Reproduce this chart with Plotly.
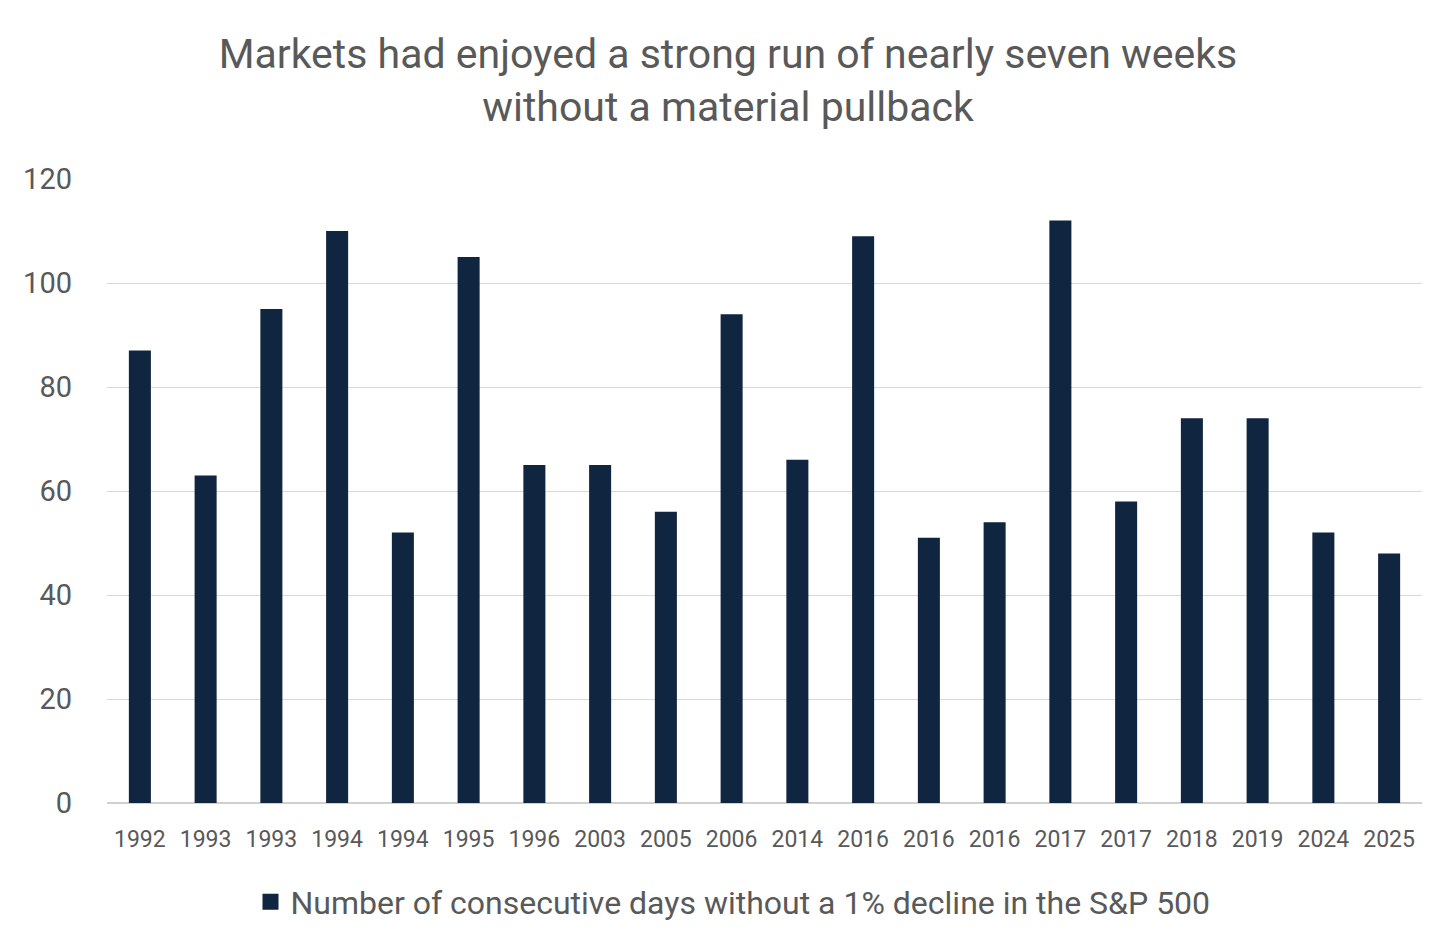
import plotly.graph_objects as go

years = ["1992", "1993", "1993", "1994", "1994", "1995", "1996", "2003", "2005", "2006",
         "2014", "2016", "2016", "2016", "2017", "2017", "2018", "2019", "2024", "2025"]
days = [87, 63, 95, 110, 52, 105, 65, 65, 56, 94, 66, 109, 51, 54, 112, 58, 74, 74, 52, 48]
series_name = "Number of consecutive days without a 1% decline in the S&P 500"
title_text = "Markets had enjoyed a strong run of nearly seven weeks<br>without a material pullback"

idx = list(range(len(years)))
bar_color = "#10253f"

W, H = 1440, 935

fig = go.Figure()
fig.add_trace(go.Bar(
    x=idx, y=days, name=series_name,
    marker=dict(color=bar_color, line=dict(width=0)),
    showlegend=False,
))
# legend-only entry with a larger square swatch
fig.add_trace(go.Scatter(
    x=[None], y=[None], mode="markers", name=series_name,
    marker=dict(symbol="square", size=20, color=bar_color),
    showlegend=True,
))

fig.update_layout(
    width=W, height=H,
    paper_bgcolor="white", plot_bgcolor="white",
    margin=dict(l=99, r=26, t=171, b=140, autoexpand=False),
    font=dict(family="Roboto, Noto Sans, sans-serif", color="#595959"),
    title=dict(text=title_text, x=0.5, xanchor="center",
               yref="container", y=1 - 60 / H, yanchor="middle",
               font=dict(size=41, color="#595959")),
    bargap=0.665,
    xaxis=dict(
        tickmode="array", tickvals=idx, ticktext=years,
        range=[-0.5, len(years) - 0.5],
        showgrid=False, zeroline=False,
        showline=False, ticks="",
        tickfont=dict(size=23, color="#595959"),
        ticklabelstandoff=20,
    ),
    yaxis=dict(
        range=[0, 120], dtick=20,
        showgrid=True, gridcolor="#d9d9d9", gridwidth=1.3,
        zeroline=True, zerolinecolor="#d0d0d0", zerolinewidth=1.5,
        showline=False, ticks="",
        tickfont=dict(size=29, color="#595959"),
        ticklabelstandoff=34,
    ),
    legend=dict(orientation="h", xref="container", x=725 / W, xanchor="center",
                y=-0.1587, yanchor="middle",
                font=dict(size=32, color="#595959"), itemsizing="trace"),
)

fig.write_html("out.html")
